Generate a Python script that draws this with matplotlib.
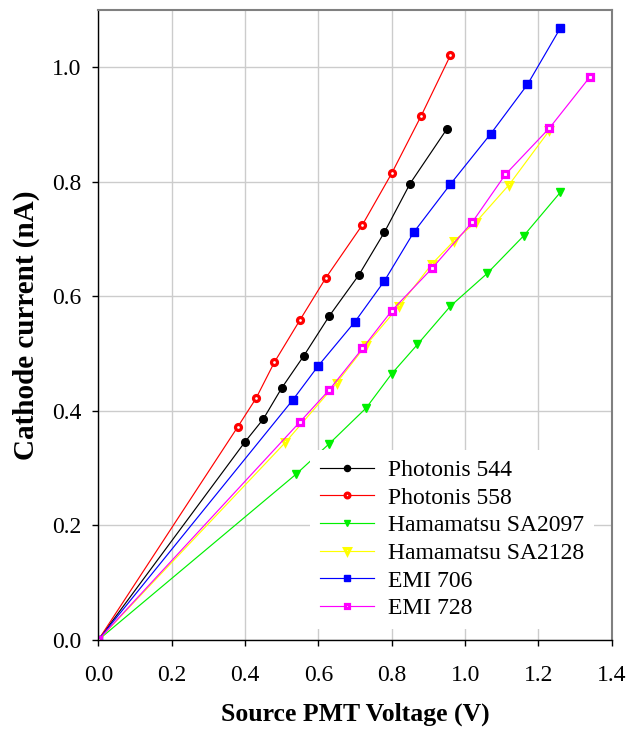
import numpy as np
import matplotlib.pyplot as plt
from matplotlib.ticker import MultipleLocator, FormatStrFormatter

plt.rcParams['font.family'] = ['Liberation Serif', 'DejaVu Serif']

# data
x544 = [0, 0.40, 0.45, 0.50, 0.56, 0.63, 0.71, 0.78, 0.85, 0.95]
y544 = [0, 0.346, 0.386, 0.440, 0.496, 0.566, 0.637, 0.712, 0.797, 0.892]

x558 = [0, 0.38, 0.43, 0.48, 0.55, 0.62, 0.72, 0.80, 0.88, 0.96]
y558 = [0, 0.372, 0.422, 0.485, 0.559, 0.632, 0.725, 0.815, 0.915, 1.021]

x2097 = [0, 0.54, 0.63, 0.73, 0.80, 0.87, 0.96, 1.06, 1.16, 1.26]
y2097 = [0, 0.290, 0.343, 0.405, 0.465, 0.516, 0.583, 0.640, 0.706, 0.782]

x2128 = [0, 0.51, 0.65, 0.73, 0.82, 0.91, 0.97, 1.03, 1.12, 1.23]
y2128 = [0, 0.345, 0.449, 0.515, 0.583, 0.657, 0.697, 0.730, 0.795, 0.890]

x706 = [0, 0.53, 0.60, 0.70, 0.78, 0.86, 0.96, 1.07, 1.17, 1.26]
y706 = [0, 0.419, 0.479, 0.556, 0.627, 0.712, 0.796, 0.884, 0.970, 1.069]

x728 = [0, 0.55, 0.63, 0.72, 0.80, 0.91, 1.02, 1.11, 1.23, 1.34]
y728 = [0, 0.381, 0.437, 0.509, 0.575, 0.649, 0.730, 0.813, 0.894, 0.983]

labels = ['Photonis 544', 'Photonis 558', 'Hamamatsu SA2097',
          'Hamamatsu SA2128', 'EMI 706', 'EMI 728']

fig = plt.figure(figsize=(6.38, 7.32), dpi=100)
ax = fig.add_axes([0.1541, 0.1257, 0.8049, 0.8606])

lw = 0.85
# filled markers
ax.plot(x544, y544, c='black', lw=lw, marker='o', ms=5.5, label=labels[0])
# open markers: thick edge, small white centre
ax.plot(x558, y558, c='red', lw=lw, marker='o', ms=4.3, mfc='white', mew=2.3, label=labels[1])
ax.plot(x2097, y2097, c='#00f000', lw=lw, marker='v', ms=6, label=labels[2])
ax.plot(x2128, y2128, c='#ffff00', lw=lw, marker='v', ms=4.8, mfc='white', mew=2.2, label=labels[3])
ax.plot(x706, y706, c='blue', lw=lw, marker='s', ms=5.2, label=labels[4])
ax.plot(x728, y728, c='magenta', lw=lw, marker='s', ms=4.2, mfc='white', mew=2.3, label=labels[5])

ax.set_xlim(0, 1.4)
ax.set_ylim(0, 1.1)
ax.xaxis.set_major_locator(MultipleLocator(0.2))
ax.yaxis.set_major_locator(MultipleLocator(0.2))
ax.xaxis.set_major_formatter(FormatStrFormatter('%.1f'))
ax.yaxis.set_major_formatter(FormatStrFormatter('%.1f'))
ax.grid(True, color='#cccccc', lw=1)
ax.set_axisbelow(True)

for s in ['top', 'right']:
    ax.spines[s].set_color('#808080')
    ax.spines[s].set_linewidth(1.5)
for s in ['left', 'bottom']:
    ax.spines[s].set_linewidth(1)

ax.tick_params(axis='both', direction='out', length=4, width=1, labelsize=17)
ax.tick_params(axis='y', pad=8)
ax.tick_params(axis='x', pad=14)

ax.set_xlabel('Source PMT Voltage (V)', fontsize=18.5, fontweight='bold', labelpad=12)
ax.set_ylabel('Cathode current (nA)', fontsize=21, fontweight='bold', labelpad=9)

leg = ax.legend(loc='lower right', bbox_to_anchor=(0.965, 0.018), fontsize=17,
                frameon=True, fancybox=False, edgecolor='none', facecolor='white',
                framealpha=1, handlelength=2.3, handletextpad=0.6, labelspacing=0.26,
                borderpad=0.4, borderaxespad=0, markerscale=0.8)

plt.savefig('out.png', dpi=100)
